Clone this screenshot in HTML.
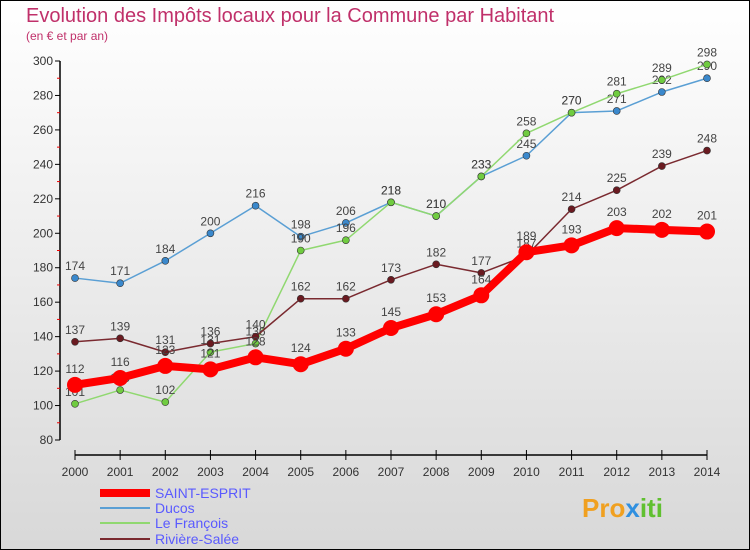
<!DOCTYPE html>
<html><head><meta charset="utf-8"><style>
body{margin:0;width:750px;height:550px;overflow:hidden;font-family:"Liberation Sans",sans-serif}
svg{display:block}
</style></head><body>
<svg id="c" width="750" height="550" xmlns="http://www.w3.org/2000/svg">
<defs><linearGradient id="bg" x1="0" y1="0" x2="0" y2="1"><stop offset="0" stop-color="#ffffff"/><stop offset="1" stop-color="#d8d8d8"/></linearGradient></defs>
<rect x="0.5" y="0.5" width="749" height="549" fill="url(#bg)" stroke="#000"/>
<text x="26" y="22" font-size="20" fill="#c0306a">Evolution des Impôts locaux pour la Commune par Habitant</text>
<text x="26" y="40" font-size="12" fill="#c0306a">(en € et par an)</text>
<g id="axes"></g><g id="series"></g><g id="legend"></g>
<text x="582" y="517" font-size="26" font-weight="bold" fill="#f0a020">Pro<tspan fill="#3090e0">x</tspan><tspan fill="#60c030">iti</tspan></text>
</svg>
<script>
const years=[2000,2001,2002,2003,2004,2005,2006,2007,2008,2009,2010,2011,2012,2013,2014];
const yTicks=[80,100,120,140,160,180,200,220,240,260,280,300];
const seriesNames=["SAINT-ESPRIT","Ducos","Le François","Rivière-Salée"];
const saintEsprit=[112,116,123,121,128,124,133,145,153,164,189,193,203,202,201];
const ducos=[174,171,184,200,216,198,206,218,210,233,245,270,271,282,290];
const leFrancois=[101,109,102,131,136,190,196,218,210,233,258,270,281,289,298];
const riviereSalee=[137,139,131,136,140,162,162,173,182,177,187,214,225,239,248];
const NS="http://www.w3.org/2000/svg";
const x=i=>75+i*(707-75)/(years.length-1);
const y=v=>440-(v-80)*(440-61)/220;
function mk(p,t,a){const e=document.createElementNS(NS,t);for(const k in a)e.setAttribute(k,a[k]);p.appendChild(e);return e;}
const ax=document.getElementById('axes');
let e=mk(ax,'line',{x1:60,y1:61,x2:60,y2:440,stroke:'#000','stroke-width':1.5});


e=mk(ax,'line',{x1:75,y1:455,x2:707,y2:455,stroke:'#000','stroke-width':1.5});


yTicks.forEach(v=>{
 mk(ax,'line',{x1:55,y1:y(v),x2:60,y2:y(v),stroke:'#000'});
 if(v<300) mk(ax,'line',{x1:57,y1:y(v+10),x2:60,y2:y(v+10),stroke:'#e00'});
 const t=mk(ax,'text',{x:53,y:y(v)+4,'font-size':12,fill:'#333','text-anchor':'end'});t.textContent=v;
 
 
});
years.forEach((yr,i)=>{
 mk(ax,'line',{x1:x(i),y1:450,x2:x(i),y2:460,stroke:'#000'});
 const t=mk(ax,'text',{x:x(i),y:476,'font-size':12,fill:'#333','text-anchor':'middle'});t.textContent=yr;
 
 
});
const sg=document.getElementById('series');
function draw(vals,color,dot,w,r,name){
 const g=mk(sg,'g',{});
 
 
 mk(g,'polyline',{points:vals.map((v,i)=>x(i)+','+y(v)).join(' '),fill:'none',stroke:color,'stroke-width':w,'stroke-linejoin':'round'});
 vals.forEach((v,i)=>{
  const c=mk(g,'circle',{cx:x(i),cy:y(v),r:r,fill:dot,stroke:'#333','stroke-width':r>6?0:0.6});
  
  
  const t=mk(g,'text',{x:x(i),y:y(v)-(r>6?12:8),'font-size':12,fill:'#444','text-anchor':'middle'});t.textContent=v;
  
  
 });
}
draw(ducos,'#5a9fd4','#3a88cc',1.5,3.5,'series-ducos');
draw(leFrancois,'#90d870','#70cc40',1.5,3.5,'series-le-francois');
draw(riviereSalee,'#7a2a30','#6a1a20',1.5,3.5,'series-riviere-salee');
draw(saintEsprit,'#ff0000','#ff0000',8,8,'series-saint-esprit');
const lg=document.getElementById('legend');
const cols=['#ff0000','#5a9fd4','#90d870','#7a2a30'],ws=[8,2,2,2],ly=[493,508,523,539];
seriesNames.forEach((n,i)=>{
 const g=mk(lg,'g',{});
 
 
 mk(g,'line',{x1:100,y1:ly[i],x2:150,y2:ly[i],stroke:cols[i],'stroke-width':ws[i]});
 const t=mk(g,'text',{x:155,y:ly[i]+5,'font-size':14,fill:'#5a5aff'});t.textContent=n;
});
</script>
</body></html>
